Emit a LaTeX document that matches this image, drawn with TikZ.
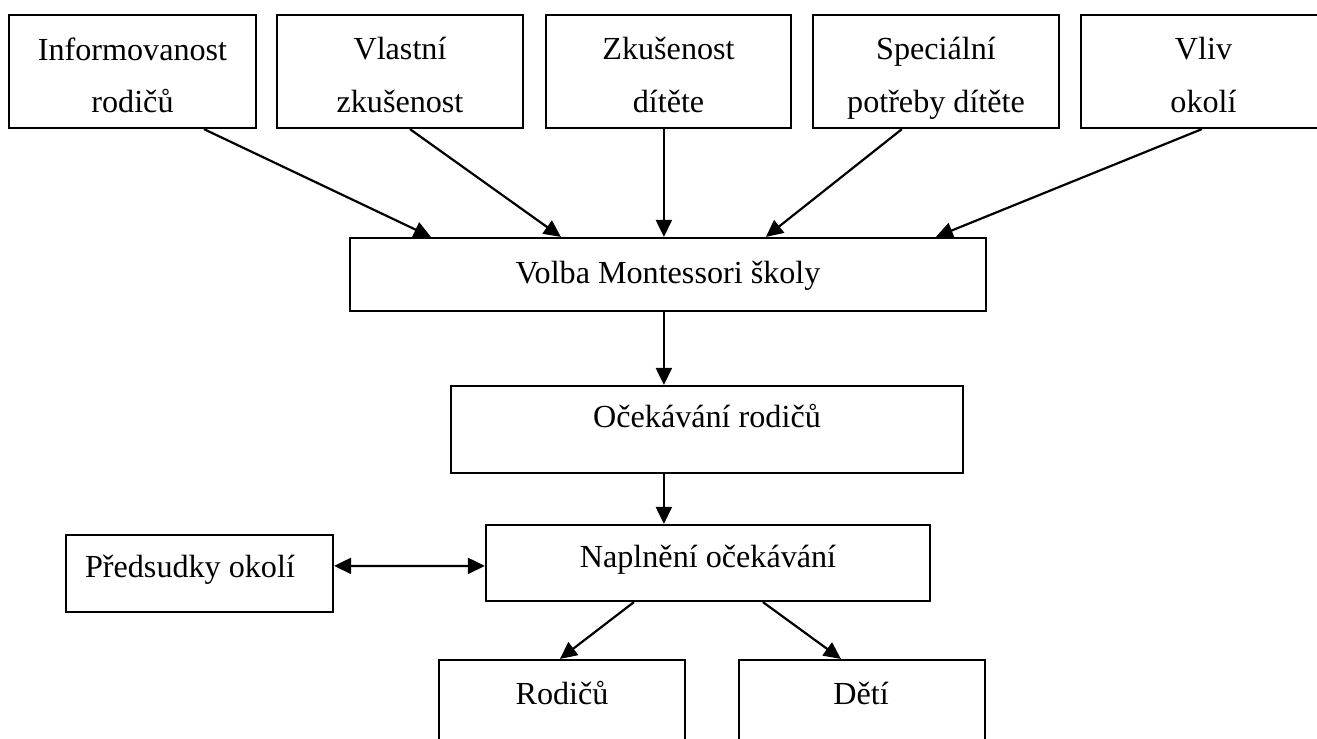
\documentclass[tikz,border=0pt]{standalone}
\usepackage{fontspec}
\setmainfont{Liberation Serif}
\usetikzlibrary{arrows.meta,fit,calc}
\begin{document}
\begin{tikzpicture}[x=0.02cm,y=-0.02cm,
  box/.style={draw=black, line width=1.25pt, inner sep=0pt},
  txt/.style={font=\fontsize{18.3}{30}\selectfont, align=center, inner sep=0pt, text depth=0.22em},
  one/.style={txt, text height=0.7em},
  arr/.style={line width=1.25pt, -{Triangle[length=0.34cm,width=0.32cm]}},
  darr/.style={line width=1.25pt, {Triangle[length=0.34cm,width=0.32cm]}-{Triangle[length=0.34cm,width=0.32cm]}}]
\useasboundingbox (0,0) rectangle (1317,738);
\fill[white] (0,0) rectangle (1317,738);
\clip (0,0) rectangle (1317,738);

% top row
\node[box, fit={(9,15) (256,128)}] (b1) {};
\node[box, fit={(277,15) (523,128)}] (b2) {};
\node[box, fit={(546,15) (791,128)}] (b3) {};
\node[box, fit={(813,15) (1059,128)}] (b4) {};
\node[box, fit={(1081,15) (1326,128)}] (b5) {};
\node[txt] (t1) at (132.5,77) {Informovanost\\rodičů};
\node[txt] (t2) at (400,77) {Vlastní\\zkušenost};
\node[txt] (t3) at (668.5,77) {Zkušenost\\dítěte};
\node[txt] (t4) at (936,77) {Speciální\\potřeby dítěte};
\node[txt] (t5) at (1203.5,77) {Vliv\\okolí};

% middle
\node[box, fit={(350,238) (986,311)}] (volba) {};
\node[one] (tvolba) at (668,279) {Volba Montessori školy};
\node[box, fit={(451,386) (963,473)}] (ocek) {};
\node[one] (tocek) at (707,423) {Očekávání rodičů};
\node[box, fit={(486,525) (930,601)}] (napl) {};
\node[one] (tnapl) at (708,563) {Naplnění očekávání};
\node[box, fit={(66,535) (333,612)}] (pred) {};
\node[one] (tpred) at (190,573) {Předsudky okolí};

% bottom
\node[box, fit={(439,660) (685,745)}] (rod) {};
\node[one] (trod) at (562,700) {Rodičů};
\node[box, fit={(739,660) (985,745)}] (det) {};
\node[one] (tdet) at (861,700) {Dětí};

% connectors
\draw[arr] ($(b1.south west)+(196,0)$) -- ($(volba.north west)+(82,0)$);
\draw[arr] ($(b2.south west)+(134,0)$) -- ($(volba.north west)+(212,0)$);
\draw[arr] ($(b3.south west)+(119,0)$) -- ($(volba.north west)+(315,0)$);
\draw[arr] ($(b4.south west)+(90,0)$) -- ($(volba.north west)+(417,0)$);
\draw[arr] ($(b5.south west)+(122,0)$) -- ($(volba.north west)+(587,0)$);
\draw[arr] ($(volba.south west)+(315,0)$) -- ($(ocek.north west)+(214,0)$);
\draw[arr] ($(ocek.south west)+(214,0)$) -- ($(napl.north west)+(179,0)$);
\draw[darr] ($(pred.north east)+(0,32)$) -- ($(napl.north west)+(0,42)$);
\draw[arr] ($(napl.south west)+(149,0)$) -- ($(rod.north west)+(122,0)$);
\draw[arr] ($(napl.south west)+(278,0)$) -- ($(det.north west)+(103,0)$);
\end{tikzpicture}
\end{document}
